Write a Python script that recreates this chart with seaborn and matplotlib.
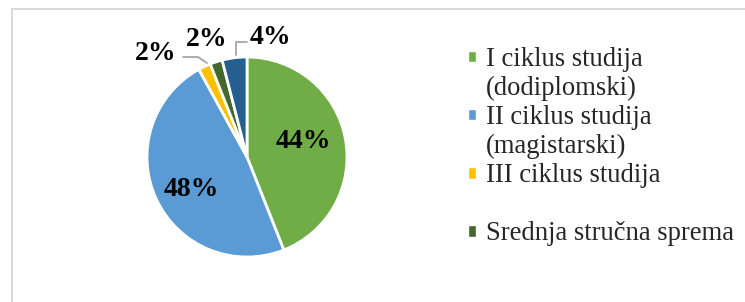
import matplotlib
matplotlib.use("Agg")
import matplotlib.pyplot as plt
import seaborn as sns
from matplotlib.patches import Patch
from matplotlib.lines import Line2D

categories = ["I ciklus studija\n(dodiplomski)", "II ciklus studija\n(magistarski)",
              "III ciklus studija", "Srednja stručna sprema", "Ostalo"]
values = [44, 48, 2, 2, 4]
colors = ["#70AD47", "#5B9BD5", "#FFC000", "#43682B", "#255E91"]

sns.set_theme(style="white")
plt.rcParams['font.family'] = ['Liberation Serif', 'DejaVu Serif']

W, H = 745, 302
fig = plt.figure(figsize=(W / 100, H / 100), dpi=100)
fig.patch.set_facecolor("white")

cx, cy, r = 247, 157, 100
ax = fig.add_axes([(cx - r) / W, (H - cy - r) / H, 2 * r / W, 2 * r / H])

wedges, texts, autotexts = ax.pie(
    values, colors=colors, startangle=90, counterclock=False,
    autopct=lambda p: f"{p:.0f}%", pctdistance=0.62,
    wedgeprops=dict(edgecolor="white", linewidth=2.0),
    textprops=dict(fontsize=20, fontweight="bold", color="black"))
ax.set_xlim(-1, 1)
ax.set_ylim(-1, 1)
ax.set_aspect("equal")
ax.axis("off")

# label positions (inside for large slices, outside for small ones)
label_pos = {0: (0.56, 0.15), 1: (-0.56, -0.32),
             2: (-0.91, 1.04), 3: (-0.40, 1.17), 4: (0.235, 1.20)}
for i, (x, y) in label_pos.items():
    autotexts[i].set_position((x, y))
    autotexts[i].set_ha("center")
    autotexts[i].set_va("center")

lc = "#A6A6A6"
ax.plot([-0.64, -0.49, -0.40], [1.00, 1.00, 0.94], color=lc, lw=1.3, clip_on=False)
ax.plot([-0.11, -0.11, 0.00], [1.02, 1.15, 1.15], color=lc, lw=1.3, clip_on=False)

# legend (one row per text line, as in the original)
blank = Patch(facecolor="none", edgecolor="none")
handles = [Patch(facecolor=colors[0]), blank,
           Patch(facecolor=colors[1]), blank,
           Patch(facecolor=colors[2]), blank,
           Patch(facecolor=colors[3])]
labels = ["I ciklus studija", "(dodiplomski)",
          "II ciklus studija", "(magistarski)",
          "III ciklus studija", " ",
          "Srednja stručna sprema"]
fs = 19.2
fig.legend(handles, labels, loc="upper left",
           bbox_to_anchor=(468 / W, 1 - 47 / H),
           frameon=False, fontsize=fs, handlelength=8 / (fs * 100 / 72),
           handleheight=8 / (fs * 100 / 72),
           handletextpad=0.38, labelspacing=0.15, borderpad=0, borderaxespad=0)

# chart area border (top and left visible)
fig.add_artist(Line2D([12 / W, 1], [1 - 8.5 / H, 1 - 8.5 / H], color="#D9D9D9", lw=1.4,
                      transform=fig.transFigure))
fig.add_artist(Line2D([12 / W, 12 / W], [0, 1 - 8.5 / H], color="#D9D9D9", lw=1.4,
                      transform=fig.transFigure))

fig.savefig("out.png", dpi=100)
